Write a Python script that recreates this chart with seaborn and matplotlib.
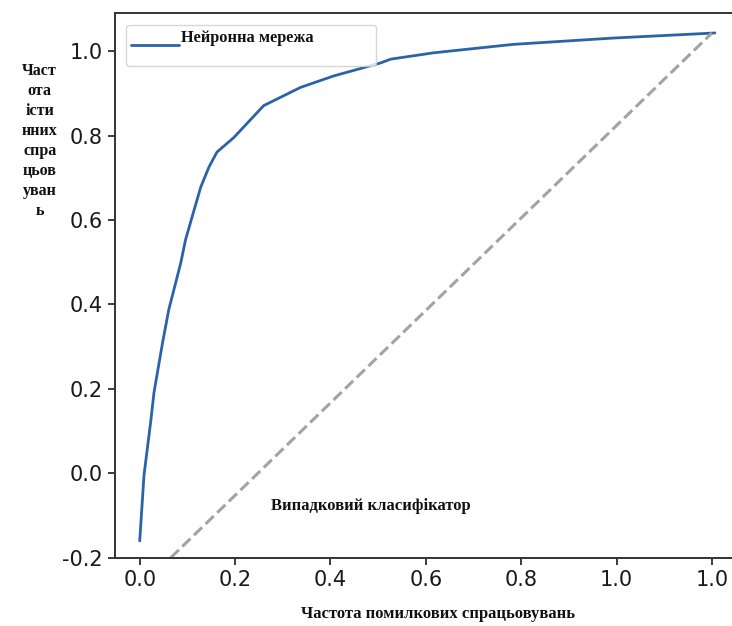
import numpy as np
import pandas as pd
import matplotlib
matplotlib.use('Agg')
import matplotlib.pyplot as plt
import seaborn as sns

# curve values
fpr = [0.0, 0.009, 0.023, 0.030, 0.048, 0.061, 0.086, 0.096, 0.110, 0.128,
       0.145, 0.162, 0.197, 0.260, 0.337, 0.406, 0.505, 0.526, 0.616, 0.783,
       0.993, 1.206]
tpr = [-0.16, -0.004, 0.122, 0.192, 0.310, 0.388, 0.498, 0.553, 0.608, 0.678,
       0.725, 0.761, 0.795, 0.871, 0.914, 0.941, 0.972, 0.981, 0.996, 1.016,
       1.031, 1.043]

# random classifier diagonal
diag_x = [0.065, 1.2]
diag_y = [-0.2, 1.043]

x_ticks = [0.0, 0.2, 0.4, 0.6, 0.8, 1.0, 1.2]
x_tick_labels = ['0.0', '0.2', '0.4', '0.6', '0.8', '1.0', '1.0']
y_ticks = [-0.2, 0.0, 0.2, 0.4, 0.6, 0.8, 1.0]
y_tick_labels = ['-0.2', '0.0', '0.2', '0.4', '0.6', '0.8', '1.0']

curve_df = pd.DataFrame({'fpr': fpr, 'tpr': tpr})
diag_df = pd.DataFrame({'x': diag_x, 'y': diag_y})

sns.set_style('ticks')
plt.rcParams['font.family'] = ['DejaVu Sans']

serif = ['Liberation Serif', 'DejaVu Serif']

fig, ax = plt.subplots(figsize=(7.32, 6.26), dpi=100)
fig.subplots_adjust(left=0.157, right=1.0, bottom=0.109, top=0.979)

sns.lineplot(data=curve_df, x='fpr', y='tpr', ax=ax, color='#2a63a7',
             linewidth=2.0, estimator=None, sort=False,
             label='Нейронна мережа\n' + ' ' * 46)
sns.lineplot(data=diag_df, x='x', y='y', ax=ax, color='#a3a3a3',
             linewidth=2.2, linestyle='--', estimator=None, sort=False,
             legend=False)

ax.text(0.276, -0.078, 'Випадковий класифікатор', family=serif,
        fontweight='bold', fontsize=12, ha='left', va='center',
        color='#111111')

ax.set_xlim(-0.052, 1.242)
ax.set_ylim(-0.2, 1.09)
ax.set_xticks(x_ticks)
ax.set_xticklabels(x_tick_labels)
ax.set_yticks(y_ticks)
ax.set_yticklabels(y_tick_labels)
ax.tick_params(labelsize=15, length=5, width=1.2, colors='#1a1a1a')

for side in ['left', 'bottom', 'top']:
    ax.spines[side].set_visible(True)
    ax.spines[side].set_color('#333333')
    ax.spines[side].set_linewidth(1.4)
ax.spines['right'].set_visible(False)

ax.set_xlabel('Частота помилкових спрацьовувань', family=serif,
              fontweight='bold', fontsize=12, color='#111111')
ax.xaxis.set_label_coords(0.523, -0.088)
ax.set_ylabel('Част\nота\nісти\nнних\nспра\nцьов\nуван\nь', family=serif,
              fontweight='bold', fontsize=11.5, rotation=0, ha='center',
              va='center', multialignment='center', linespacing=1.33,
              color='#111111')
ax.yaxis.set_label_coords(-0.122, 0.765)

leg = ax.legend(loc='upper left', handlelength=2.9, handletextpad=0.15,
                borderpad=0.3, borderaxespad=0.7, frameon=True, fancybox=True,
                prop={'family': serif, 'weight': 'bold', 'size': 11.8})
leg.get_frame().set_edgecolor('#cccccc')
leg.get_frame().set_linewidth(1.0)
for t in leg.get_texts():
    t.set_color('#111111')
    t.set_linespacing(0.95)

fig.savefig('out.png', dpi=100, facecolor='white')
